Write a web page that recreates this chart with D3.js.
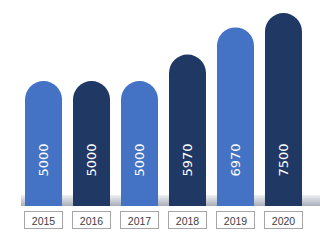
<!DOCTYPE html>
<html>
<head>
<meta charset="utf-8">
<script src="https://cdn.jsdelivr.net/npm/d3@7"></script>
<style>
  html, body { margin: 0; padding: 0; background: #fff; }
  #chart { width: 320px; height: 246px; }
</style>
</head>
<body>
<div id="chart"></div>
<script>
// chart data
const years = ["2015", "2016", "2017", "2018", "2019", "2020"];
const values = [5000, 5000, 5000, 5970, 6970, 7500];
const barColors = ["#4472c4", "#1f3864", "#4472c4", "#1f3864", "#4472c4", "#1f3864"];

const W = 320, H = 246;
const floorY = 206;

const svg = d3.select("#chart")
  .append("svg")
  .attr("width", W)
  .attr("height", H);

const defs = svg.append("defs");
const grad = defs.append("linearGradient")
  .attr("id", "floor")
  .attr("x1", 0).attr("y1", 0).attr("x2", 0).attr("y2", 1);
grad.append("stop").attr("offset", "0%").attr("stop-color", "#eef0f3");
grad.append("stop").attr("offset", "100%").attr("stop-color", "#a8adb8");

const x = d3.scaleBand()
  .domain(years)
  .range([19.5, 307.5])
  .paddingInner(0.229)
  .paddingOuter(0.115);

const y = d3.scaleLinear()
  .domain([0, 7500])
  .range([217, 13]);

// grey floor strip behind the bars
svg.append("rect")
  .attr("x", 21)
  .attr("y", 195)
  .attr("width", W - 21)
  .attr("height", floorY - 195)
  .attr("fill", "url(#floor)");

const data = years.map((yr, i) => ({ year: yr, value: values[i], color: barColors[i] }));

// capsule shaped bars
const barPath = d => {
  const x0 = x(d.year), w = x.bandwidth(), r = w / 2;
  const top = y(d.value);
  return `M${x0},${floorY} L${x0},${top + r} A${r},${r} 0 0 1 ${x0 + w},${top + r} L${x0 + w},${floorY} Z`;
};

svg.selectAll("path.bar")
  .data(data)
  .join("path")
  .attr("class", "bar")
  .attr("d", barPath)
  .attr("fill", d => d.color);

// values written up the bars
svg.selectAll("text.val")
  .data(data)
  .join("text")
  .attr("class", "val")
  .attr("transform", d => `translate(${x(d.year) + x.bandwidth() / 2},160) rotate(-90)`)
  .attr("text-anchor", "middle")
  .attr("dominant-baseline", "central")
  .attr("fill", "#fff")
  .style("font-family", "DejaVu Sans")
  .style("font-size", "13px")
  .text(d => d.value);

// year boxes under the floor
const boxes = svg.selectAll("g.yr")
  .data(data)
  .join("g")
  .attr("class", "yr")
  .attr("transform", d => `translate(${x(d.year) - 1},211)`);

boxes.append("rect")
  .attr("x", 0.5)
  .attr("y", 0.5)
  .attr("width", x.bandwidth() + 1)
  .attr("height", 17)
  .attr("fill", "#fff")
  .attr("stroke", "#a6a6a6")
  .attr("stroke-width", 1);

boxes.append("text")
  .attr("x", x.bandwidth() / 2 + 1)
  .attr("y", 9.5)
  .attr("text-anchor", "middle")
  .attr("dominant-baseline", "central")
  .attr("fill", "#404040")
  .style("font-family", "Liberation Sans")
  .style("font-size", "10.5px")
  .text(d => d.year);
</script>
</body>
</html>
